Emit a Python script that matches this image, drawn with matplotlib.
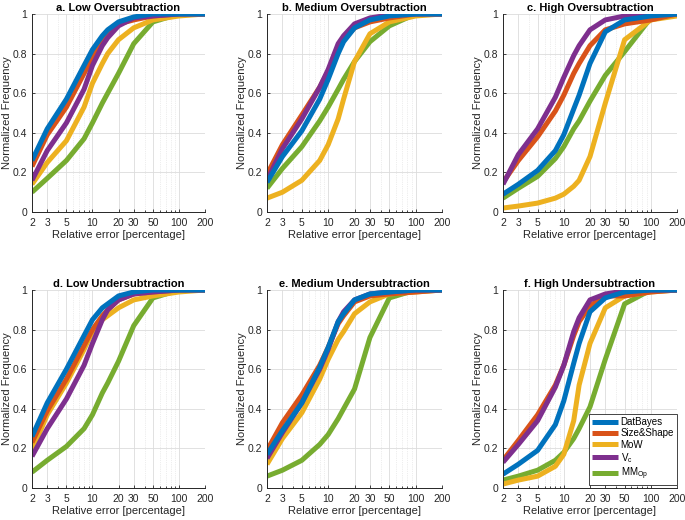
import numpy as np
import matplotlib
matplotlib.use('Agg')
import matplotlib.pyplot as plt
from matplotlib.ticker import FixedLocator, NullFormatter, LogLocator

plt.rcParams['font.family'] = ['Liberation Sans', 'DejaVu Sans']
plt.rcParams['font.size'] = 7.5
plt.rcParams['mathtext.fontset'] = 'custom'
plt.rcParams['mathtext.rm'] = 'Liberation Sans'

# relative error sample points [percentage]
x_err = [2, 3, 5, 8, 10, 13, 15, 20, 30, 50, 100, 200]

methods = ['DatBayes', 'Size&Shape', 'MoW', r'V$_\mathrm{c}$', r'MM$_\mathrm{Op}$']
colors = ['#0072BD', '#D95319', '#EDB120', '#7E2F8E', '#77AC30']
# draw order in the reference: green under, blue on top of the others
draw_order = [4, 2, 1, 3, 0]

titles = ['a. Low Oversubtraction', 'b. Medium Oversubtraction',
          'c. High Oversubtraction', 'd. Low Undersubtraction',
          'e. Medium Undersubtraction', 'f. High Undersubtraction']

# normalized frequency per panel, one row per method (order as in `methods`)
low_over = [
    [0.26, 0.42, 0.57, 0.74, 0.82, 0.89, 0.92, 0.96, 0.985, 1.0, 1.0, 1.0],
    [0.23, 0.39, 0.53, 0.70, 0.78, 0.86, 0.90, 0.95, 0.97, 0.99, 1.0, 1.0],
    [0.14, 0.25, 0.36, 0.53, 0.65, 0.75, 0.80, 0.87, 0.93, 0.97, 0.99, 1.0],
    [0.16, 0.31, 0.45, 0.62, 0.74, 0.84, 0.88, 0.94, 0.98, 0.99, 1.0, 1.0],
    [0.10, 0.17, 0.26, 0.37, 0.45, 0.55, 0.60, 0.70, 0.85, 0.96, 1.0, 1.0],
]
med_over = [
    [0.15, 0.28, 0.41, 0.57, 0.67, 0.80, 0.86, 0.93, 0.97, 0.99, 1.0, 1.0],
    [0.19, 0.34, 0.49, 0.63, 0.71, 0.83, 0.87, 0.93, 0.96, 0.98, 1.0, 1.0],
    [0.07, 0.10, 0.16, 0.26, 0.34, 0.47, 0.57, 0.76, 0.90, 0.96, 0.99, 1.0],
    [0.16, 0.32, 0.47, 0.63, 0.72, 0.85, 0.89, 0.95, 0.98, 0.995, 1.0, 1.0],
    [0.12, 0.22, 0.33, 0.46, 0.53, 0.62, 0.67, 0.76, 0.86, 0.94, 1.0, 1.0],
]
high_over = [
    [0.09, 0.14, 0.21, 0.31, 0.39, 0.52, 0.59, 0.75, 0.91, 0.97, 0.99, 1.0],
    [0.15, 0.26, 0.38, 0.51, 0.59, 0.70, 0.75, 0.84, 0.92, 0.95, 0.97, 1.0],
    [0.02, 0.03, 0.045, 0.07, 0.09, 0.13, 0.16, 0.28, 0.55, 0.87, 0.97, 0.99],
    [0.14, 0.29, 0.42, 0.58, 0.68, 0.79, 0.84, 0.92, 0.97, 0.99, 1.0, 1.0],
    [0.07, 0.12, 0.18, 0.27, 0.33, 0.42, 0.46, 0.56, 0.69, 0.81, 0.98, 1.0],
]
low_under = [
    [0.26, 0.43, 0.60, 0.77, 0.85, 0.91, 0.93, 0.97, 0.99, 1.0, 1.0, 1.0],
    [0.23, 0.39, 0.55, 0.72, 0.80, 0.87, 0.90, 0.95, 0.98, 0.99, 1.0, 1.0],
    [0.19, 0.37, 0.53, 0.70, 0.79, 0.85, 0.87, 0.91, 0.95, 0.97, 0.99, 1.0],
    [0.16, 0.30, 0.45, 0.62, 0.73, 0.85, 0.90, 0.95, 0.98, 0.99, 1.0, 1.0],
    [0.08, 0.14, 0.21, 0.30, 0.37, 0.48, 0.53, 0.64, 0.82, 0.96, 1.0, 1.0],
]
med_under = [
    [0.17, 0.29, 0.43, 0.61, 0.71, 0.84, 0.88, 0.95, 0.98, 0.99, 1.0, 1.0],
    [0.19, 0.33, 0.47, 0.62, 0.71, 0.83, 0.87, 0.94, 0.97, 0.98, 0.99, 1.0],
    [0.12, 0.25, 0.38, 0.55, 0.65, 0.75, 0.79, 0.88, 0.94, 0.98, 0.99, 1.0],
    [0.15, 0.28, 0.43, 0.60, 0.70, 0.84, 0.89, 0.95, 0.98, 0.99, 1.0, 1.0],
    [0.06, 0.09, 0.14, 0.22, 0.27, 0.35, 0.40, 0.50, 0.76, 0.96, 1.0, 1.0],
]
high_under = [
    [0.07, 0.12, 0.19, 0.32, 0.44, 0.63, 0.73, 0.89, 0.96, 0.99, 1.0, 1.0],
    [0.14, 0.24, 0.37, 0.52, 0.62, 0.77, 0.84, 0.92, 0.97, 0.97, 0.99, 1.0],
    [0.02, 0.04, 0.06, 0.11, 0.17, 0.34, 0.52, 0.73, 0.91, 0.97, 0.99, 1.0],
    [0.13, 0.22, 0.34, 0.51, 0.62, 0.79, 0.86, 0.95, 0.98, 0.995, 1.0, 1.0],
    [0.04, 0.06, 0.09, 0.14, 0.18, 0.25, 0.30, 0.41, 0.65, 0.93, 1.0, 1.0],
]
panels = [low_over, med_over, high_over, low_under, med_under, high_under]

x_ticks = [2, 3, 5, 10, 20, 30, 50, 100, 200]
y_ticks = [0, 0.2, 0.4, 0.6, 0.8, 1]

fig = plt.figure(figsize=(6.85, 5.2), dpi=100)
lefts = [0.0467, 0.3898, 0.7343]
widths = [0.2526, 0.2555, 0.254]
bottoms = [0.5923, 0.0615]
height = 0.3808

axc = '#262626'
for i, (title, data) in enumerate(zip(titles, panels)):
    r, c = divmod(i, 3)
    ax = fig.add_axes([lefts[c], bottoms[r], widths[c], height])
    for k in draw_order:
        ax.plot(x_err, data[k], color=colors[k], lw=3.6, label=methods[k],
                solid_joinstyle='round', solid_capstyle='butt')
    ax.set_xscale('log')
    ax.set_xlim(2, 200)
    ax.set_ylim(0, 1)
    ax.xaxis.set_major_locator(FixedLocator(x_ticks))
    ax.set_xticklabels([str(t) for t in x_ticks])
    ax.xaxis.set_minor_locator(LogLocator(base=10, subs=np.arange(2, 10)))
    ax.xaxis.set_minor_formatter(NullFormatter())
    ax.set_yticks(y_ticks)
    ax.set_yticklabels(['0', '0.2', '0.4', '0.6', '0.8', '1'])
    ax.grid(True, which='major', color='#dcdcdc', lw=0.6)
    ax.grid(True, which='minor', axis='x', color='#dcdcdc', lw=0.5, ls=':')
    ax.set_axisbelow(True)
    for s in ['top', 'right']:
        ax.spines[s].set_visible(False)
    for s in ['left', 'bottom']:
        ax.spines[s].set_color(axc)
        ax.spines[s].set_linewidth(0.7)
    ax.tick_params(which='both', direction='in', colors=axc, length=2.5,
                   width=0.6, labelsize=7.5)
    ax.tick_params(axis='x', pad=4)
    ax.tick_params(axis='y', pad=3.5)
    ax.tick_params(which='minor', length=1.5)
    ax.set_title(title, fontsize=8, fontweight='bold', color='black', pad=2)
    ax.set_xlabel('Relative error [percentage]', fontsize=8, color=axc,
                  labelpad=1.5)
    ax.set_ylabel('Normalized Frequency', fontsize=8, color=axc, labelpad=0.5)

    if i == 5:
        handles, labels = ax.get_legend_handles_labels()
        order = [labels.index(m) for m in methods]
        leg = ax.legend([handles[j] for j in order], [labels[j] for j in order],
                        loc='lower right', fontsize=7, handlelength=2.7,
                        handletextpad=0.25, labelspacing=0.12, borderpad=0.3,
                        borderaxespad=0, fancybox=False, framealpha=1,
                        bbox_to_anchor=(1.0, 0.015))
        leg.get_frame().set_edgecolor(axc)
        leg.get_frame().set_linewidth(0.6)

fig.savefig('out.png', dpi=100)
